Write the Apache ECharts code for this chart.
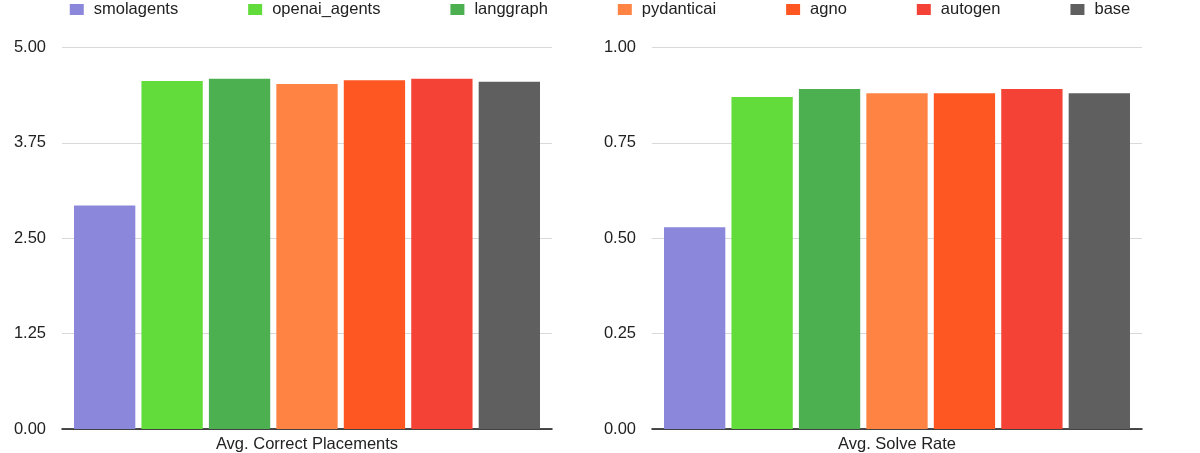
<!DOCTYPE html>
<html>
<head>
<meta charset="utf-8">
<script src="https://cdn.jsdelivr.net/npm/echarts@6/dist/echarts.min.js"></script>
<style>
html,body{margin:0;padding:0;background:#fff;overflow:hidden;}
#c{width:1200px;height:453px;}
</style>
</head>
<body>
<div id="c"></div>
<script>
const frameworks = ['smolagents','openai_agents','langgraph','pydanticai','agno','autogen','base'];
const colors = ['#8b87da','#62dc3b','#4caf50','#ff8444','#ff5722','#f44336','#5f5f5f'];
const metricLeft = ['Avg. Correct Placements'];
const metricRight = ['Avg. Solve Rate'];
const placements = [2.93, 4.56, 4.59, 4.52, 4.57, 4.59, 4.55];
const solveRate = [0.529, 0.870, 0.891, 0.880, 0.880, 0.891, 0.880];
const leftTicks = {min:0, max:5, interval:1.25};
const rightTicks = {min:0, max:1, interval:0.25};

const FONT = 'Liberation Sans, Arial, sans-serif';
const chart = echarts.init(document.getElementById('c'), null, {width:1200, height:453});

function xAxis(idx, data){
  return {
    type:'category', gridIndex:idx, data:data,
    axisTick:{show:false},
    axisLine:{lineStyle:{color:'#111', width:1.5}},
    axisLabel:{color:'#222', fontSize:16.5, fontFamily:FONT, margin:7}
  };
}
function yAxis(idx, t){
  return {
    type:'value', gridIndex:idx, min:t.min, max:t.max, interval:t.interval,
    axisLine:{show:false}, axisTick:{show:false},
    axisLabel:{color:'#222', fontSize:16.5, fontFamily:FONT, margin:16,
      formatter:v=>v.toFixed(2)},
    splitLine:{lineStyle:{color:'#d9d9d9', width:1}}
  };
}
const series = [];
frameworks.forEach((name,i)=>{
  series.push({name:name, type:'bar', xAxisIndex:0, yAxisIndex:0,
    data:[placements[i]], itemStyle:{color:colors[i]},
    barGap:'10%', barCategoryGap:'4.9%'});
});
frameworks.forEach((name,i)=>{
  series.push({name:name, type:'bar', xAxisIndex:1, yAxisIndex:1,
    data:[solveRate[i]], itemStyle:{color:colors[i]},
    barGap:'10%', barCategoryGap:'4.9%'});
});

chart.setOption({
  animation:false,
  color:colors,
  legend:{
    data:frameworks, top:-4, left:'center',
    icon:'rect', itemWidth:14, itemHeight:11, itemGap:70,
    textStyle:{fontSize:16.5, color:'#222', fontFamily:FONT, padding:[0,0,0,5]}
  },
  grid:[
    {left:62, width:490, top:47.5, height:384},
    {left:652, width:490, top:47.5, height:384}
  ],
  xAxis:[xAxis(0, metricLeft), xAxis(1, metricRight)],
  yAxis:[yAxis(0, leftTicks), yAxis(1, rightTicks)],
  series:series
});
</script>
</body>
</html>
